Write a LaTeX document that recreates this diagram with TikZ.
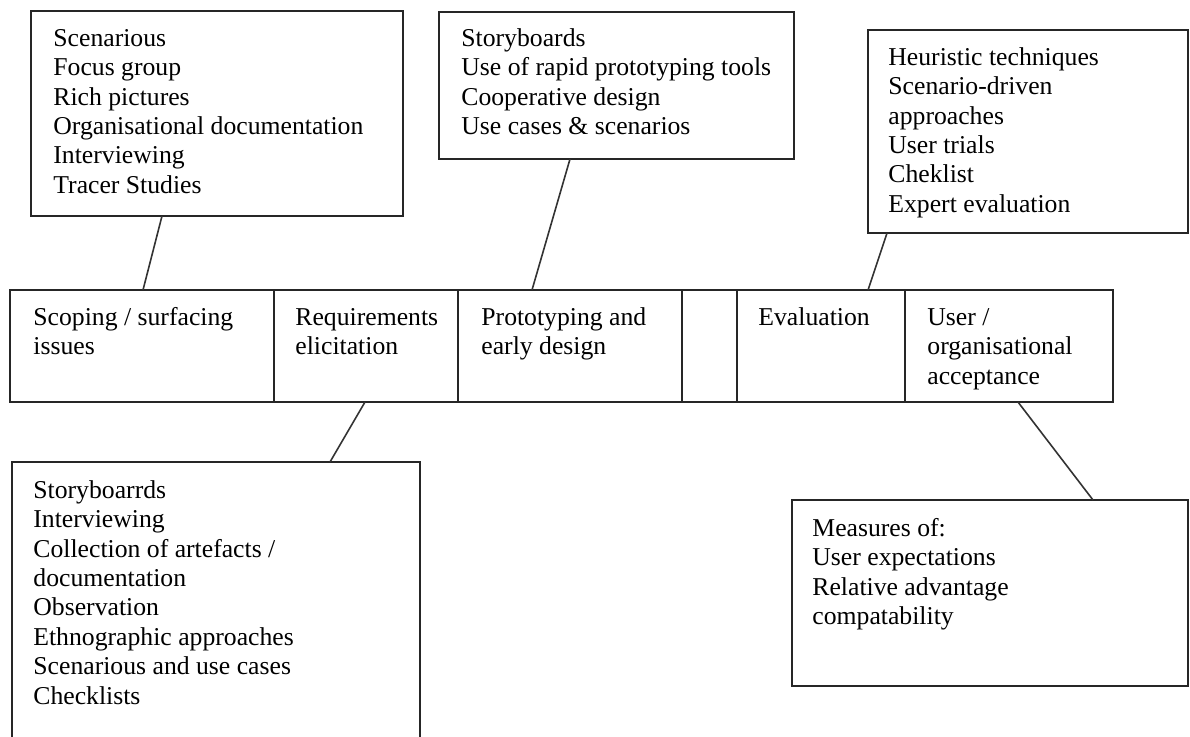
\documentclass[tikz,border=0pt]{standalone}
\usepackage{fontspec}
\setmainfont{Liberation Serif}
\usetikzlibrary{calc}
\begin{document}
\begin{tikzpicture}[x=0.5pt,y=-0.5pt,
  frame/.style={draw=black!85, line width=1.1pt, inner sep=0pt, outer sep=0pt, anchor=north west},
  link/.style={draw=black!80, line width=0.8pt},
  txt/.style={anchor=north west, inner sep=0pt, align=left,
              font=\fontsize{12.85pt}{14.7pt}\selectfont},
]
\useasboundingbox (0,0) rectangle (1190,736);

% --- method boxes above the phase row
\node[frame, minimum width=186pt, minimum height=102.5pt] (tl) at (31,11) {};
\node[txt] (tltxt) at (53,25.4) {\strut Scenarious\\Focus group\\Rich pictures\\Organisational documentation\\Interviewing\\Tracer Studies};

\node[frame, minimum width=177.5pt, minimum height=73.5pt] (tm) at (439,12) {};
\node[txt] (tmtxt) at (461,25.4) {\strut Storyboards\\Use of rapid prototyping tools\\Cooperative design\\Use cases \& scenarios};

\node[frame, minimum width=160pt, minimum height=101.5pt] (tr) at (868,30) {};
\node[txt] (trtxt) at (888,44.4) {\strut Heuristic techniques\\Scenario-driven\\approaches\\User trials\\Cheklist\\Expert evaluation};

% --- phase row
\node[frame, minimum width=132pt, minimum height=56pt] (scope) at (10,290) {};
\node[frame, minimum width=92pt,  minimum height=56pt] (req)   at (274,290) {};
\node[frame, minimum width=112pt, minimum height=56pt] (proto) at (458,290) {};
\node[frame, minimum width=27.5pt, minimum height=56pt] (gap)  at (682,290) {};
\node[frame, minimum width=84pt,  minimum height=56pt] (eval)  at (737,290) {};
\node[frame, minimum width=104pt, minimum height=56pt] (accept) at (905,290) {};

\node[txt] (scopetxt)  at (33,304.4)  {\strut Scoping / surfacing\\issues};
\node[txt] (reqtxt)    at (295,304.4) {\strut Requirements\\elicitation};
\node[txt] (prototxt)  at (481,304.4) {\strut Prototyping and\\early design};
\node[txt] (evaltxt)   at (758,304.4) {\strut Evaluation};
\node[txt] (accepttxt) at (927,304.4) {\strut User /\\organisational\\acceptance};

% --- method boxes below the phase row
\node[frame, minimum width=204pt, minimum height=149pt] (bl) at (12,462) {};
\node[txt] (bltxt) at (33,477.4) {\strut Storyboarrds\\Interviewing\\Collection of artefacts /\\documentation\\Observation\\Ethnographic approaches\\Scenarious and use cases\\Checklists};

\node[frame, minimum width=198pt, minimum height=93pt] (br) at (792,500) {};
\node[txt] (brtxt) at (812,515.4) {\strut Measures of:\\User expectations\\Relative advantage\\compatability};

% --- connectors between phases and method boxes
\draw[link] ($(tl.south west)+(131,0)$) -- ($(scope.north west)+(133,0)$);
\draw[link] ($(tm.south west)+(131,0)$) -- ($(proto.north west)+(74,0)$);
\draw[link] ($(tr.south west)+(19,0)$)  -- ($(eval.north west)+(131,0)$);
\draw[link] ($(req.south west)+(91,0)$) -- ($(bl.north west)+(318,0)$);
\draw[link] ($(accept.south west)+(113,0)$) -- ($(br.north west)+(301,0)$);
\end{tikzpicture}
\end{document}
